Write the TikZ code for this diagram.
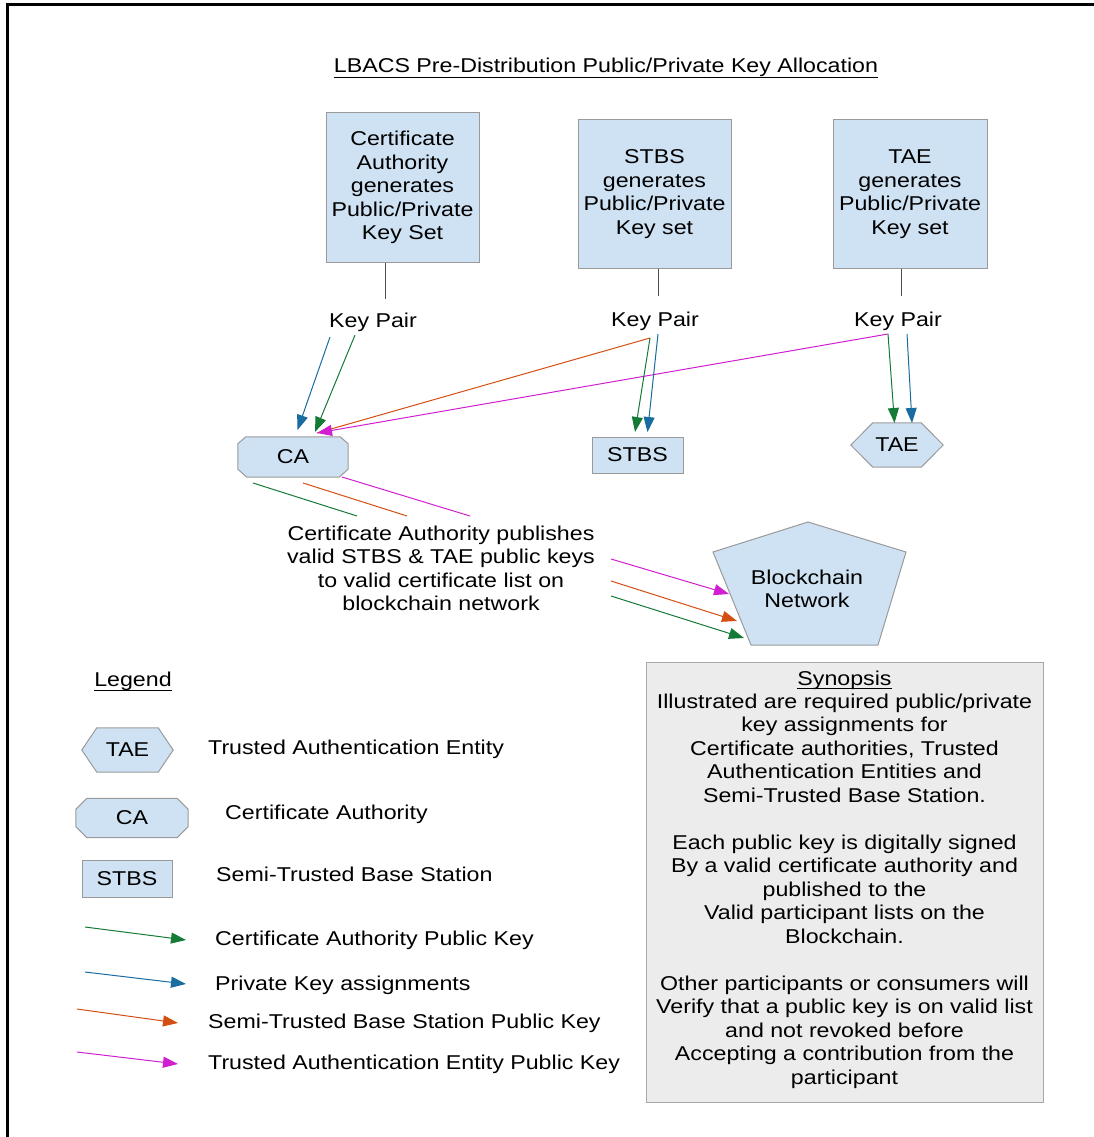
\documentclass[tikz,border=0pt]{standalone}
\usepackage{fontspec}
\setmainfont{Liberation Sans}[FakeStretch=1.16]
\usetikzlibrary{arrows.meta,backgrounds}
\definecolor{shpfill}{HTML}{CFE2F3}
\definecolor{shpline}{HTML}{9A9A9A}
\definecolor{synfill}{HTML}{ECECEC}
\definecolor{synline}{HTML}{A8A8A8}
\definecolor{agreen}{RGB}{22,122,55}
\definecolor{ablue}{RGB}{24,108,160}
\definecolor{aorange}{RGB}{212,78,20}
\definecolor{amag}{RGB}{208,30,208}
\begin{document}
\begin{tikzpicture}[x=1pt,y=-1pt,
  txt/.style={font=\fontsize{20}{23.5}\selectfont, inner sep=0pt, align=center},
  keybox/.style={txt, draw=shpline, fill=shpfill, line width=1pt},
  shp/.style={draw=shpline, fill=shpfill, line width=1pt},
  conn/.style={line width=1pt, -{Triangle[length=15pt,width=11pt]}},
  lineonly/.style={line width=1pt},
  stem/.style={draw=black!70, line width=1pt},
  uline/.style={draw=black, line width=1pt},
  lbl/.style={txt, anchor=base west},
]
\useasboundingbox (0,0) rectangle (1094,1137);
% frame
\draw[line width=2.3pt] (7.5,1137) -- (7.5,4.5) -- (1094,4.5);

% title
\node[txt, anchor=base] (title) at (606,73) {LBACS Pre-Distribution Public/Private Key Allocation};
\draw[uline] ([yshift=-5]title.base west) -- ([yshift=-5]title.base east);

% key generation boxes
\node[keybox, minimum width=153, minimum height=149] (box1) at (402.5,187.5) {Certificate\\Authority\\generates\\Public/Private\\Key Set};
\node[keybox, minimum width=153, minimum height=148] (box2) at (654.5,194) {STBS\\generates\\Public/Private\\Key set};
\node[keybox, minimum width=154, minimum height=148] (box3) at (910,194) {TAE\\generates\\Public/Private\\Key set};

\node[txt, anchor=base] (kp1) at (373,327) {Key Pair};
\node[txt, anchor=base] (kp2) at (655,326) {Key Pair};
\node[txt, anchor=base] (kp3) at (898,326) {Key Pair};

\draw[stem] ([xshift=-17.5]box1.south) -- ++(0,36);
\draw[stem] ([xshift=3.5]box2.south) -- ++(0,27);
\draw[stem] ([xshift=-9]box3.south) -- ++(0,27);

% entities
\node[txt, minimum width=110, minimum height=40] (ca) at (293,457) {CA};
\node[keybox, minimum width=91, minimum height=36] (stbs) at (637.5,455) {STBS};
\node[txt, minimum width=92, minimum height=44] (tae) at (897,445) {TAE};

% blockchain
\node[txt, anchor=north] (bcn) at (807,569.7) {Blockchain\\Network};
\coordinate (p1) at (808,522);
\coordinate (p2) at (906,552);
\coordinate (p3) at (878,645);
\coordinate (p4) at (751,645);
\coordinate (p5) at (713,552);

% publish text
\node[txt, anchor=north] (pub) at (441,525.7) {Certificate Authority publishes\\valid STBS \& TAE public keys\\to valid certificate list on\\blockchain network};

% legend
\node[txt, anchor=base] (leg) at (133,686) {Legend};
\draw[uline] ([yshift=-4]leg.base west) -- ([yshift=-4]leg.base east);
\node[txt, minimum width=91, minimum height=44] (ltae) at (127.5,750) {TAE};
\node[txt, minimum width=112, minimum height=39] (lca) at (132,818) {CA};
\node[keybox, minimum width=90, minimum height=37] (lstbs) at (127,878.5) {STBS};
\node[lbl] (ltaet) at (208,754) {Trusted Authentication Entity};
\node[lbl] (lcat) at (225,819) {Certificate Authority};
\node[lbl] (lstbst) at (216,881) {Semi-Trusted Base Station};
\node[lbl] (lg) at (215,945) {Certificate Authority Public Key};
\node[lbl] (lb) at (215,990) {Private Key assignments};
\node[lbl] (lo) at (208,1028) {Semi-Trusted Base Station Public Key};
\node[lbl] (lm) at (208,1069) {Trusted Authentication Entity Public Key};

% synopsis
\node[txt, anchor=base] (synt) at (844.5,685) {Synopsis};
\draw[uline] ([yshift=-3]synt.base west) -- ([yshift=-3]synt.base east);
\node[txt, anchor=north] (synb) at (844.5,693.7) {Illustrated are required public/private\\key assignments for\\Certificate authorities, Trusted\\Authentication Entities and\\Semi-Trusted Base Station.\\[23.5pt]Each public key is digitally signed\\By a valid certificate authority and\\published to the\\Valid participant lists on the\\Blockchain.\\[23.5pt]Other participants or consumers will\\Verify that a public key is on valid list\\and not revoked before\\Accepting a contribution from the\\participant};

% shapes behind text
\begin{scope}[on background layer]
\draw[shp] ([xshift=8]ca.north west) -- ([xshift=-8]ca.north east) -- ([yshift=-7]ca.north east) -- ([yshift=8]ca.south east) -- ([xshift=-9]ca.south east) -- ([xshift=9]ca.south west) -- ([yshift=8]ca.south west) -- ([yshift=-7]ca.north west) -- cycle;
\draw[shp] ([xshift=22]tae.north west) -- ([xshift=-22]tae.north east) -- (tae.east) -- ([xshift=-22]tae.south east) -- ([xshift=22]tae.south west) -- (tae.west) -- cycle;
\draw[shp] (p1) -- (p2) -- (p3) -- (p4) -- (p5) -- cycle;
\draw[shp] ([xshift=15]ltae.north west) -- ([xshift=-15]ltae.north east) -- (ltae.east) -- ([xshift=-15]ltae.south east) -- ([xshift=15]ltae.south west) -- (ltae.west) -- cycle;
\draw[shp] ([xshift=11]lca.north west) -- ([xshift=-11]lca.north east) -- ([yshift=-11]lca.north east) -- ([yshift=11]lca.south east) -- ([xshift=-11]lca.south east) -- ([xshift=11]lca.south west) -- ([yshift=11]lca.south west) -- ([yshift=-11]lca.north west) -- cycle;
\filldraw[draw=synline, fill=synfill, line width=1pt] (646,662) rectangle (1043,1102);
\end{scope}

% connector end points
\coordinate (k1a) at (330,337);
\coordinate (k1b) at (355,335);
\coordinate (k2a) at (650,338);
\coordinate (k2b) at (658,334);
\coordinate (k3a) at (888,334);
\coordinate (k3b) at (907,334);
\coordinate (ca1) at (297.5,430);
\coordinate (ca2) at (315,432);
\coordinate (ca3) at (317,433);
\coordinate (st1) at (635,432);
\coordinate (st2) at (647.5,432);
\coordinate (ta1) at (894.5,423);
\coordinate (ta2) at (912,423);

\draw[conn, ablue] (k1a) -- (ca1);
\draw[conn, agreen] (k1b) -- (ca2);
\draw[lineonly, aorange] (k2a) -- (ca3);
\draw[conn, amag] (k3a) -- (ca3);
\draw[conn, agreen] (k2a) -- (st1);
\draw[conn, ablue] (k2b) -- (st2);
\draw[conn, agreen] (k3a) -- (ta1);
\draw[conn, ablue] (k3b) -- (ta2);

% CA to publish text
\coordinate (cl1) at (253,483);
\coordinate (cl2) at (303,483);
\coordinate (cl3) at (342,477);
\coordinate (pu1) at (357,516);
\coordinate (pu2) at (407,516);
\coordinate (pu3) at (470,516);
\draw[lineonly, agreen] (cl1) -- (pu1);
\draw[lineonly, aorange] (cl2) -- (pu2);
\draw[lineonly, amag] (cl3) -- (pu3);

% publish text to blockchain
\coordinate (bs1) at (611,559);
\coordinate (bs2) at (611,581);
\coordinate (bs3) at (611,596);
\coordinate (bt1) at (729,594);
\coordinate (bt2) at (737,621);
\coordinate (bt3) at (744,638);
\draw[conn, amag] (bs1) -- (bt1);
\draw[conn, aorange] (bs2) -- (bt2);
\draw[conn, agreen] (bs3) -- (bt3);

% legend arrows
\coordinate (lg1) at (85,927);
\coordinate (lg2) at (186,940);
\coordinate (lb1) at (85,972);
\coordinate (lb2) at (186,984);
\coordinate (lo1) at (77,1009);
\coordinate (lo2) at (178,1023);
\coordinate (lm1) at (77,1052);
\coordinate (lm2) at (178,1064);
\draw[conn, agreen] (lg1) -- (lg2);
\draw[conn, ablue] (lb1) -- (lb2);
\draw[conn, aorange] (lo1) -- (lo2);
\draw[conn, amag] (lm1) -- (lm2);
\end{tikzpicture}
\end{document}
